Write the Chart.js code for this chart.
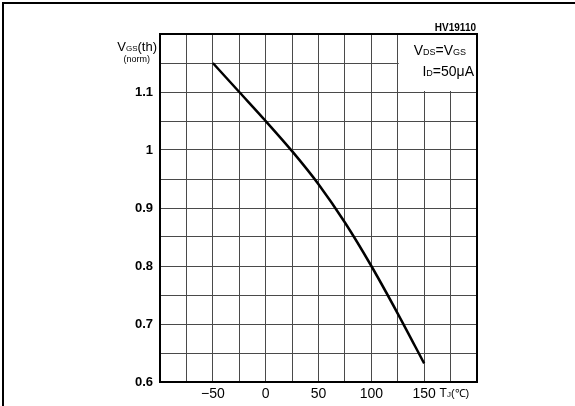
<!DOCTYPE html>
<html>
<head>
<meta charset="utf-8">
<script src="https://cdn.jsdelivr.net/npm/chart.js@4"></script>
<style>
body { margin: 0; background: #fff; }
#wrap { width: 575px; height: 406px; }
</style>
</head>
<body>
<div id="wrap"><canvas id="myChart" width="575" height="406"></canvas></div>
<script>
// values
const tempC = [-50, -25, 0, 25, 50, 75, 100, 125, 150];
const vgsNorm = [1.15, 1.10, 1.05, 0.998, 0.941, 0.875, 0.80, 0.718, 0.632];
const xTickLabels = [-50, 0, 50, 100, 150];
const yTickLabels = [0.6, 0.7, 0.8, 0.9, 1, 1.1];

const points = tempC.map((t, i) => ({ x: t, y: vgsNorm[i] }));

// draw text made of pieces (normal + subscript), right or left aligned
function drawPieces(ctx, pieces, x, y, align) {
  let total = 0;
  pieces.forEach(p => {
    ctx.font = p.font;
    total += ctx.measureText(p.t).width;
  });
  let cx = align === 'right' ? x - total : x;
  ctx.textAlign = 'left';
  ctx.textBaseline = 'alphabetic';
  pieces.forEach(p => {
    ctx.font = p.font;
    ctx.fillText(p.t, cx, y + (p.dy || 0));
    cx += ctx.measureText(p.t).width;
  });
}

const sheetPlugin = {
  id: 'sheet',
  beforeDatasetsDraw(chart) {
    const { ctx, scales } = chart;
    const x1 = scales.x.getPixelForValue(125);
    const x2 = scales.x.getPixelForValue(200);
    const y1 = scales.y.getPixelForValue(1.2);
    const y2 = scales.y.getPixelForValue(1.1);
    ctx.save();
    ctx.fillStyle = '#fff';
    ctx.fillRect(x1 + 1, y1, x2 - x1 - 1, y2 - y1 - 1);
    ctx.restore();
  },
  afterDraw(chart) {
    const { ctx, chartArea: a, scales } = chart;
    ctx.save();
    ctx.strokeStyle = '#000';
    ctx.lineWidth = 2;
    ctx.strokeRect(a.left, a.top, a.right - a.left, a.bottom - a.top);

    // page frame (left and top edges)
    ctx.beginPath();
    ctx.moveTo(3, 406);
    ctx.lineTo(3, 3);
    ctx.lineTo(575, 3);
    ctx.stroke();

    ctx.fillStyle = '#000';
    ctx.font = 'bold 10px "Liberation Sans", Arial, sans-serif';
    ctx.textAlign = 'right';
    ctx.fillText('HV19110', a.right - 1, 31);

    const f = s => s + 'px "Liberation Sans", Arial, sans-serif';
    drawPieces(ctx, [
      { t: 'V', font: f(13) }, { t: 'GS', font: f(8) }, { t: '(th)', font: f(13) }
    ], 157, 51, 'right');
    drawPieces(ctx, [{ t: '(norm)', font: f(9) }], 150, 62, 'right');

    drawPieces(ctx, [
      { t: 'V', font: f(14) }, { t: 'DS', font: f(9) }, { t: '=V', font: f(14) }, { t: 'GS', font: f(9) }
    ], 466, 55, 'right');
    drawPieces(ctx, [
      { t: 'I', font: f(14) }, { t: 'D', font: f(9) }, { t: '=50μA', font: f(14) }
    ], 474, 76, 'right');

    drawPieces(ctx, [
      { t: 'T', font: f(12) }, { t: 'J', font: f(8) }, { t: '(℃)', font: f(11) }
    ], scales.x.getPixelForValue(175) - 11, 397, 'left');
    ctx.restore();
  }
};

const ctx = document.getElementById('myChart');
const myChart1 = new Chart(ctx, {
  type: 'scatter',
  data: {
    datasets: [{
      data: points,
      showLine: true,
      borderColor: '#000',
      borderWidth: 2.5,
      pointRadius: 0,
      tension: 0.3
    }]
  },
  options: {
    responsive: false,
    animation: false,
    layout: { padding: { left: 0, top: 34, right: 98, bottom: 0 } },
    scales: {
      x: {
        type: 'linear',
        min: -100,
        max: 200,
        afterFit: s => { s.height = 24; },
        grid: { color: '#4a4a4a', lineWidth: 1, drawTicks: false },
        border: { display: false },
        ticks: {
          stepSize: 25,
          padding: 4,
          maxRotation: 0,
          autoSkip: false,
          color: '#000',
          font: { size: 14, family: '"Liberation Sans", Arial, sans-serif' },
          callback: v => xTickLabels.includes(v) ? (v < 0 ? '−' + Math.abs(v) : String(v)) : ''
        }
      },
      y: {
        min: 0.6,
        max: 1.2,
        afterFit: s => { s.width = 160; },
        grid: { color: '#4a4a4a', lineWidth: 1, drawTicks: false },
        border: { display: false },
        ticks: {
          stepSize: 0.05,
          padding: 7,
          autoSkip: false,
          color: '#000',
          font: { size: 13, weight: 'bold', family: '"Liberation Sans", Arial, sans-serif' },
          callback: v => {
            const r = Math.round(v * 100) / 100;
            return yTickLabels.includes(r) ? String(r) : '';
          }
        }
      }
    },
    plugins: {
      legend: { display: false },
      tooltip: { enabled: false }
    }
  },
  plugins: [sheetPlugin]
});
</script>
</body>
</html>
